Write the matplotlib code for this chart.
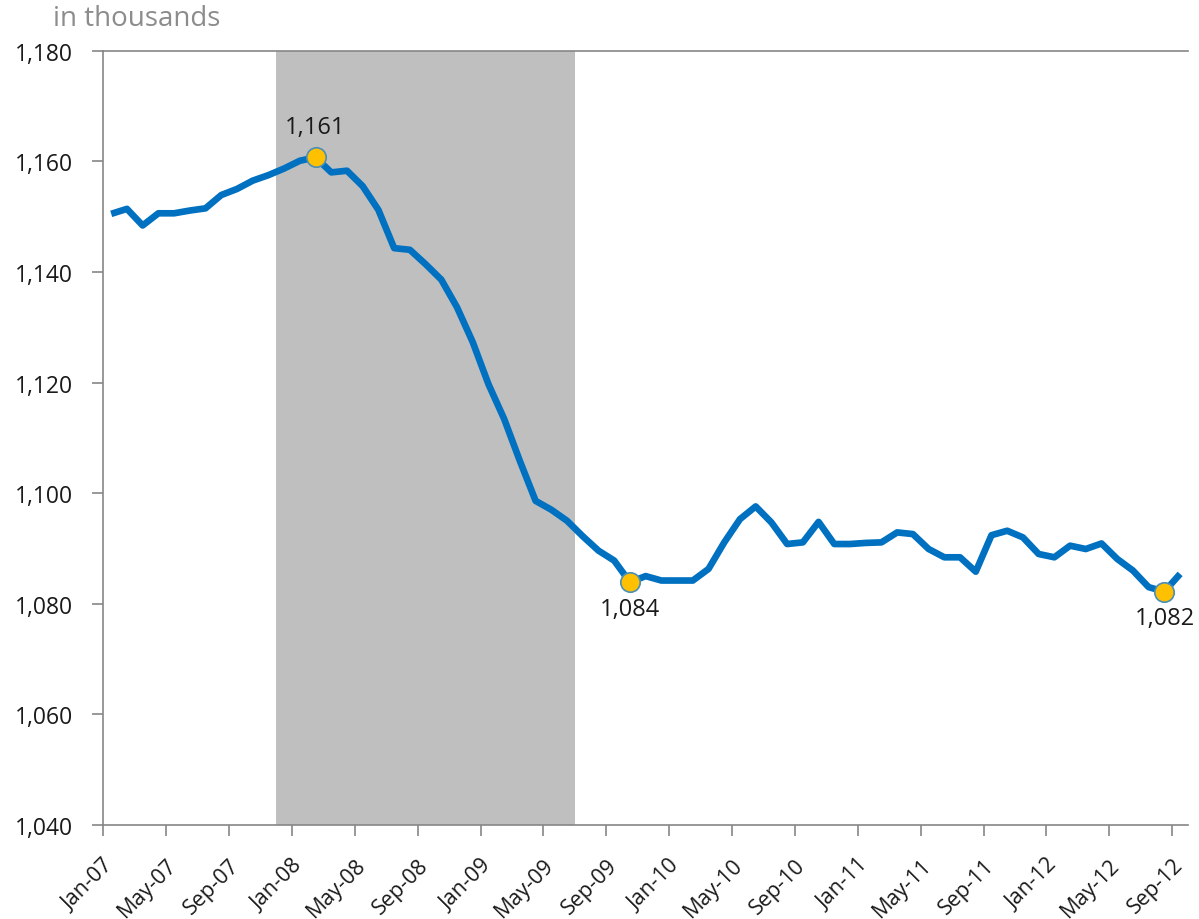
import pandas as pd
import matplotlib
matplotlib.use("Agg")
import matplotlib.pyplot as plt
import matplotlib.transforms as mtransforms

plt.rcParams['font.family'] = ['Open Sans', 'DejaVu Sans']

# ================= DATA =================
months = pd.date_range("2007-01-01", "2012-09-01", freq="MS")
labels = [m.strftime("%b-%y") for m in months]

values = [
    1150.5, 1151.4, 1148.4, 1150.6, 1150.6, 1151.1, 1151.5, 1153.9, 1155.0, 1156.5,
    1157.5, 1158.7, 1160.1, 1160.7, 1158.0, 1158.3, 1155.5, 1151.2, 1144.3, 1144.0,
    1141.4, 1138.6, 1133.6, 1127.3, 1119.7, 1113.4, 1105.8, 1098.6, 1097.0, 1095.0,
    1092.2, 1089.6, 1087.8, 1083.9, 1085.0, 1084.2, 1084.2, 1084.2, 1086.3, 1091.1,
    1095.3, 1097.6, 1094.7, 1090.8, 1091.1, 1094.8, 1090.8, 1090.8, 1091.0, 1091.1,
    1092.9, 1092.6, 1089.9, 1088.4, 1088.4, 1085.8, 1092.4, 1093.2, 1092.0, 1089.0,
    1088.4, 1090.5, 1089.9, 1090.9, 1088.1, 1086.0, 1083.0, 1082.2, 1085.4,
]

# highlighted points: month label -> text
highlights = {"Feb-08": "1,161", "Oct-09": "1,084", "Aug-12": "1,082"}

# recession (first month, last month)
recession = ("Dec-07", "Jun-09")

# ================= PLOT =================
fig = plt.figure(figsize=(11.99, 9.20), dpi=100)
ax = fig.add_axes([0.0862, 0.1022, 0.9046, 0.8416])

# each month is one cell, point drawn at its middle
x = [i + 0.5 for i in range(len(values))]

r0 = labels.index(recession[0])
r1 = labels.index(recession[1]) + 1
ax.axvspan(r0, r1, color='#BFBFBF', lw=0, zorder=0)

ax.plot(x, values, color='#0070C0', lw=4.8, solid_joinstyle='round',
        solid_capstyle='butt', zorder=2)

for lab, txt in highlights.items():
    i = labels.index(lab)
    ax.plot(x[i], values[i], 'o', ms=14, mfc='#FFC000', mec='#4A8FB8',
            mew=1.2, zorder=3)
    dy = 22 if txt == "1,161" else -19
    ax.annotate(txt, (x[i], values[i]), xytext=(0, dy), textcoords='offset points',
                ha='center', va='center', fontsize=17, color='#1a1a1a')

ax.set_xlim(0, len(values))
ax.set_ylim(1040, 1180)

ax.set_yticks(range(1040, 1181, 20))
ax.set_yticklabels([f"{v:,}" for v in range(1040, 1181, 20)], fontsize=16.5,
                   color='#1a1a1a')

tick_idx = list(range(0, len(values), 4))
ax.set_xticks(tick_idx)
ax.set_xticklabels([labels[i] for i in tick_idx], rotation=45, ha='right',
                   va='top', rotation_mode='anchor', fontsize=15.5, color='#1a1a1a')
shift = mtransforms.ScaledTranslation(9 / 100, 0, fig.dpi_scale_trans)
for t in ax.get_xticklabels():
    t.set_transform(t.get_transform() + shift)

ax.tick_params(axis='both', direction='out', length=8, width=1.2, color='#868686')
ax.tick_params(axis='x', pad=13)
ax.tick_params(axis='y', pad=14)

for s in ['left', 'bottom', 'top']:
    ax.spines[s].set_color('#868686')
    ax.spines[s].set_linewidth(1.2)
ax.spines['right'].set_visible(False)

fig.text(53 / 1199, 1 - 19 / 920, "in thousands", fontsize=20, color='#8C8C8C',
         ha='left', va='center')

fig.savefig("out.png", dpi=100)
